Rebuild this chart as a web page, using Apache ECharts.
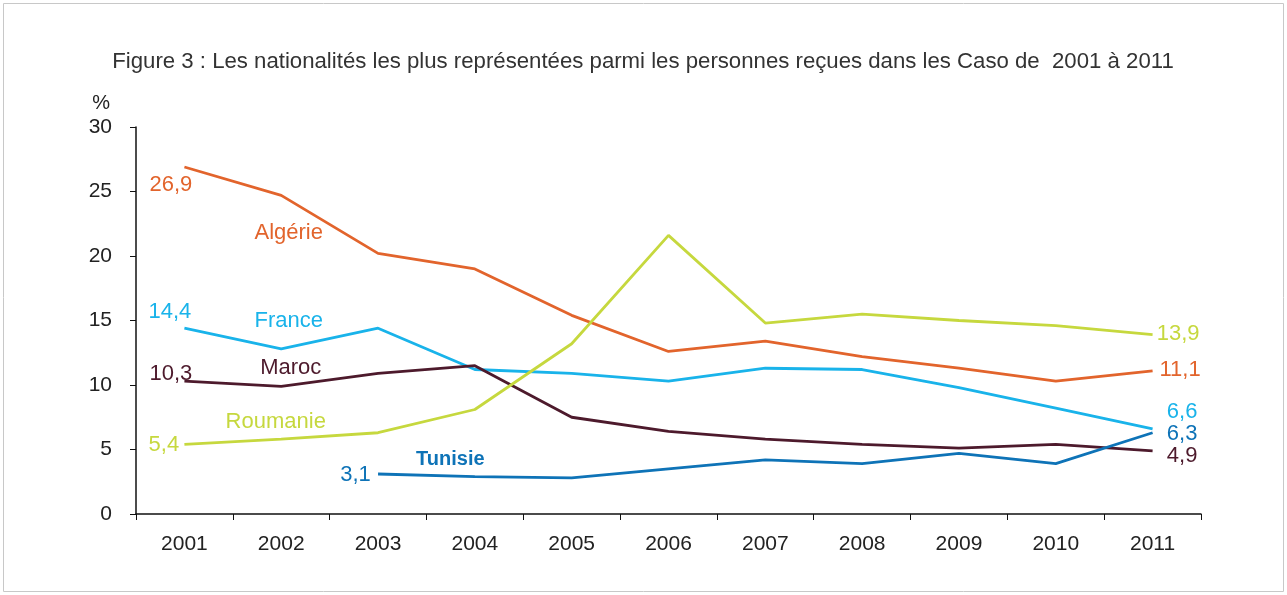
<!DOCTYPE html>
<html><head><meta charset="utf-8">
<script src="https://cdn.jsdelivr.net/npm/echarts@6/dist/echarts.min.js"></script>
<style>html,body{margin:0;padding:0;background:#fff}#c{width:1287px;height:595px}</style>
</head><body><div id="c"></div>
<script>
const years = ['2001','2002','2003','2004','2005','2006','2007','2008','2009','2010','2011'];
const algerie  = [26.9, 24.7, 20.2, 19.0, 15.4, 12.6, 13.4, 12.2, 11.3, 10.3, 11.1];
const france   = [14.4, 12.8, 14.4, 11.2, 10.9, 10.3, 11.3, 11.2, 9.8, 8.2, 6.6];
const maroc    = [10.3, 9.9, 10.9, 11.5, 7.5, 6.4, 5.8, 5.4, 5.1, 5.4, 4.9];
const roumanie = [5.4, 5.8, 6.3, 8.1, 13.2, 21.6, 14.8, 15.5, 15.0, 14.6, 13.9];
const tunisie  = [null, null, 3.1, 2.9, 2.8, 3.5, 4.2, 3.9, 4.7, 3.9, 6.3];
const yTicks = [0, 5, 10, 15, 20, 25, 30];

const FONT = '"Liberation Sans", Arial, sans-serif';
const fmt = v => String(v).replace('.', ',');

function lbl(off) {
  return {show: true, position: [off[0], off[1]], align: 'center', verticalAlign: 'middle', formatter: p => fmt(p.value)};
}
function build(values, firstOff, lastOff) {
  const firstIdx = values.findIndex(v => v !== null);
  return values.map((v, i) => {
    if (v === null) return null;
    if (i === firstIdx) return {value: v, label: lbl(firstOff)};
    if (i === values.length - 1) return {value: v, label: lbl(lastOff)};
    return {value: v, label: {show: false}};
  });
}
function nameMark(name, cat, val, color, dx, bold) {
  return {symbol: 'circle', symbolSize: 1, silent: true, itemStyle: {color: 'rgba(0,0,0,0)'},
    data: [{coord: [cat, val], label: {show: true, formatter: name, color: color, fontSize: bold ? 20 : 22, fontFamily: FONT,
      fontWeight: bold ? 'bold' : 'normal', position: [dx, 1], align: 'center', verticalAlign: 'middle'}}]};
}
function series(name, values, color, firstOff, lastOff, mark) {
  return {
    name, type: 'line', data: build(values, firstOff, lastOff), symbol: 'circle', symbolSize: 1, showSymbol: true,
    connectNulls: false, lineStyle: {color, width: 2.8}, itemStyle: {color: 'rgba(0,0,0,0)'},
    label: {show: false, color, fontSize: 22, fontFamily: FONT},
    labelLayout: {hideOverlap: false},
    markPoint: mark, animation: false
  };
}
const chart = echarts.init(document.getElementById('c'), null, {renderer: 'canvas'});
chart.setOption({
  animation: false,
  title: {text: 'Figure 3 : Les nationalités les plus représentées parmi les personnes reçues dans les Caso de  2001 à 2011',
    left: 638, top: 46, textAlign: 'center',
    textStyle: {fontSize: 22.2, fontWeight: 'normal', color: '#333', fontFamily: FONT}},
  grid: {left: 136, right: 86, top: 127, bottom: 81},
  graphic: [{type: 'rect', shape: {x: 3.5, y: 3.5, width: 1280, height: 588}, style: {fill: 'none', stroke: '#c8c8c8', lineWidth: 1}, silent: true, z: -1}],
  xAxis: {type: 'category', data: years, boundaryGap: true,
    axisLine: {lineStyle: {color: '#111', width: 1.5}},
    axisTick: {show: true, length: 6, lineStyle: {color: '#111'}},
    axisLabel: {fontSize: 21, color: '#222', margin: 20, fontFamily: FONT}},
  yAxis: {type: 'value', min: 0, max: 30, interval: 5, name: '%', nameLocation: 'end', nameGap: 14,
    nameTextStyle: {fontSize: 20, color: '#222', fontFamily: FONT, align: 'right', padding: [0, 26, 0, 0]},
    axisLine: {show: true, lineStyle: {color: '#111', width: 1.5}},
    axisTick: {show: true, length: 6, lineStyle: {color: '#111'}},
    splitLine: {show: false},
    axisLabel: {fontSize: 21, color: '#222', margin: 24, fontFamily: FONT,
      formatter: v => yTicks.includes(v) ? String(v) : ''}},
  series: [
    series('Algérie', algerie, '#e2642c', [-13, 18], [28, 0], nameMark('Algérie', '2002', 21.8, '#e2642c', 8)),
    series('France', france, '#19b3ea', [-14, -16], [30, -16], nameMark('France', '2002', 15.0, '#19b3ea', 8)),
    series('Maroc', maroc, '#4d1a2c', [-13, -7], [30, 6], nameMark('Maroc', '2002', 11.4, '#4d1a2c', 10)),
    series('Roumanie', roumanie, '#c6d83e', [-20, 1], [26, 0], nameMark('Roumanie', '2002', 7.2, '#c6d83e', -5)),
    series('Tunisie', tunisie, '#0e73b7', [-22, 1], [30, 2], nameMark('Tunisie', '2004', 4.3, '#0e73b7', -24, true))
  ]
});
</script></body></html>
